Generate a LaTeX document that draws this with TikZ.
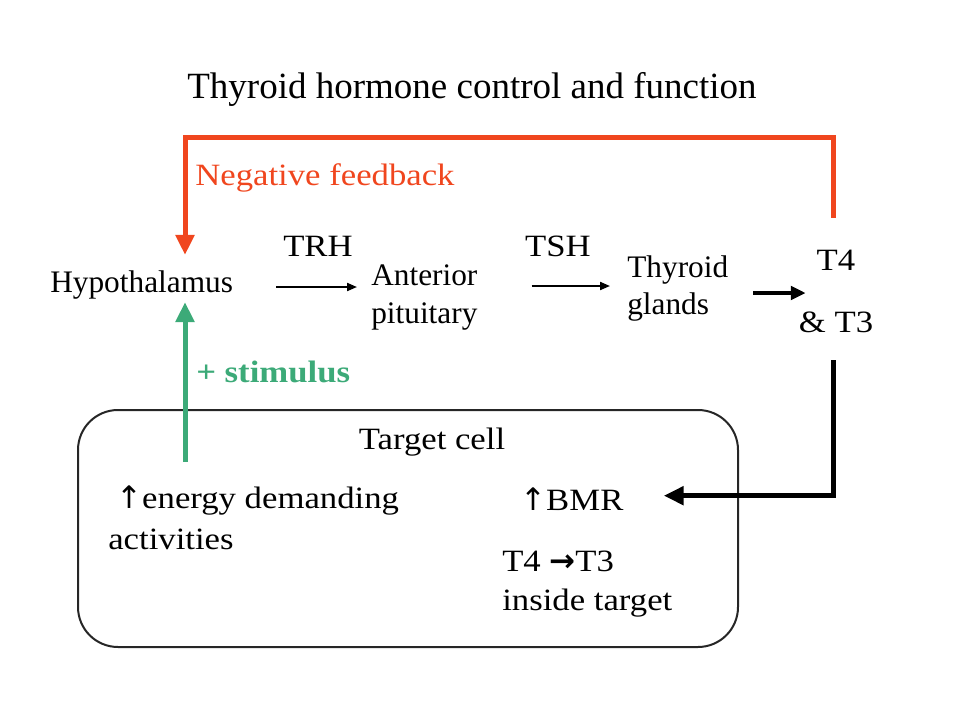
\documentclass[tikz,border=0pt]{standalone}
\usepackage{fontspec}
\setmainfont{Liberation Serif}
\newfontfamily\bmfont[FakeStretch=1.12]{Liberation Serif}
\newfontfamily\arrowfont{DejaVu Sans}
\usetikzlibrary{arrows.meta,calc}
\definecolor{fbred}{RGB}{240,70,30}
\definecolor{stimgreen}{RGB}{60,170,120}

\begin{document}
\begin{tikzpicture}[x=0.75pt,y=-0.75pt,
    organ/.style={inner sep=0pt, align=left, font=\fontsize{23.5}{28.5}\selectfont},
    bmtext/.style={inner sep=0pt, align=left, font=\bmfont\fontsize{23.25}{30}\selectfont},
    hormone/.style={line width=1.5pt, -{Triangle[length=7.5pt,width=6pt]}},
    release/.style={line width=3pt, -{Triangle[length=11pt,width=10pt]}},
    feedback/.style={fbred, line width=3.75pt, -{Triangle[length=15pt,width=13.5pt]}},
    stimulus/.style={stimgreen, line width=3.75pt, -{Triangle[length=15pt,width=13.5pt]}},
    output/.style={line width=3.75pt, -{Triangle[length=15pt,width=13.5pt]}},
    cellbox/.style={draw=black!85, line width=1.5pt, rounded corners=30pt,
        minimum width=495pt, minimum height=177.75pt, inner sep=0pt}]
    \useasboundingbox (0,0) rectangle (960,720);

    % --- Title ---
    \node[anchor=base, font=\fontsize{27.75}{33}\selectfont] (title) at (472,99) {Thyroid hormone control and function};

    % --- Glands along the axis ---
    \node[organ, anchor=base west] (hypo) at (50,292) {Hypothalamus};
    \node[organ, anchor=north west] (ant) at (371,264) {Anterior\\pituitary};
    \node[organ, anchor=north west, font=\fontsize{23.5}{27.75}\selectfont] (thy) at (627,255) {Thyroid\\glands};
    \node[bmtext, anchor=north, align=center, font=\bmfont\fontsize{23.25}{46.5}\selectfont] (t4) at (836,250) {T4\\\& T3};

    % --- Hormone labels ---
    \node[bmtext, anchor=base] (trh) at (318,257) {TRH};
    \node[bmtext, anchor=base] (tsh) at (558,257) {TSH};
    \node[bmtext, anchor=base west, text=fbred] (fblabel) at (195,186) {Negative feedback};
    \node[bmtext, anchor=base west, text=stimgreen, font=\bmfont\bfseries\fontsize{23.25}{30}\selectfont] (stimlabel) at (196,382) {+ stimulus};

    % --- Target cell ---
    \node[cellbox] (cell) at (408,528.5) {};
    \node[bmtext, anchor=base] (celllabel) at (432,449) {Target cell};
    \node[bmtext, anchor=north west, font=\bmfont\fontsize{23.25}{30.75}\selectfont] (energy) at (108,486) {\hspace*{6pt}{\arrowfont ↑}energy demanding\\activities};
    \node[bmtext, anchor=base west] (bmr) at (520,510) {{\arrowfont ↑}BMR};
    \node[bmtext, anchor=north west, font=\bmfont\fontsize{23.25}{29.25}\selectfont] (conv) at (502,551) {T4 {\arrowfont\bfseries →}T3\\inside target};
    \coordinate (stimfoot) at (185,462);

    % --- Connectors ---
    \draw[hormone] ($(hypo.east)+(43,2.5)$) -- ($(hypo.east -| ant.west)+(-14,2.5)$);
    \draw[hormone] ($(ant.east |- hypo.east)+(54,1.5)$) -- ($(thy.west |- hypo.east)+(-17,1.5)$);
    \draw[release] ($(thy.east |- hypo.east)+(25,8.5)$) -- ($(t4.west |- hypo.east)+(7,8.5)$);
    \draw[feedback] ($(t4.north)+(-3,-32)$) -- ++(0,-80) -| ($(stimfoot |- hypo.north)+(0,-15)$);
    \draw[stimulus] (stimfoot) -- ($(stimfoot |- hypo.south)+(0,3)$);
    \draw[output] ($(t4.south)+(-3,27)$) |- ($(bmr.east)+(40,-3)$);
\end{tikzpicture}
\end{document}
